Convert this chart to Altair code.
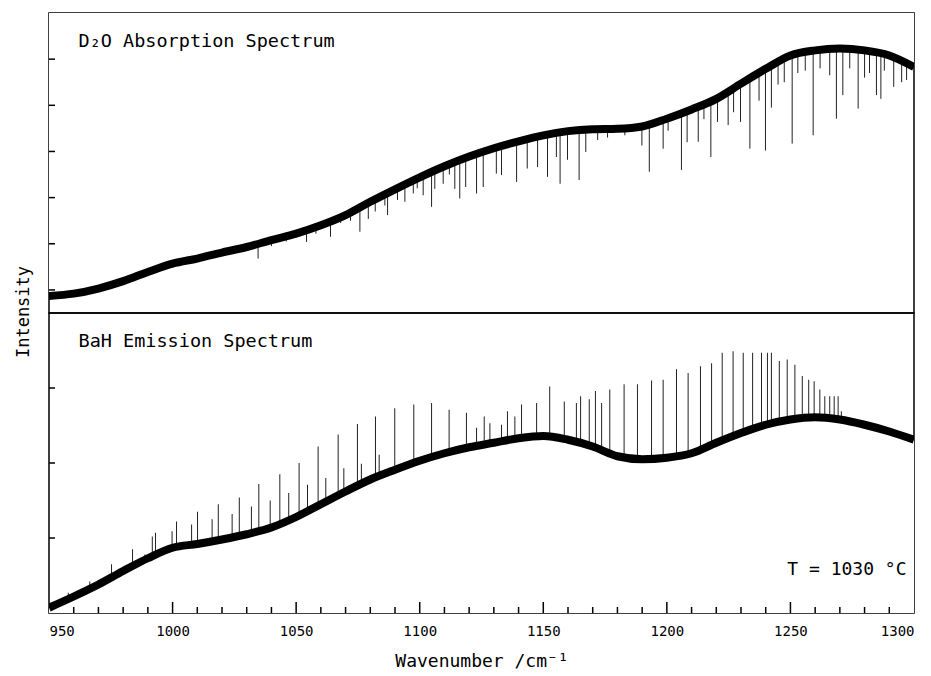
import altair as alt
import pandas as pd

# ---------------- data ----------------
# wavenumber grid (cm^-1) of the read-off smooth backgrounds
wn_grid = [950, 960, 970, 980, 990, 1000, 1010, 1020, 1030, 1040, 1050, 1060,
           1070, 1080, 1090, 1100, 1110, 1120, 1130, 1140, 1150, 1160, 1170,
           1180, 1190, 1200, 1210, 1220, 1230, 1240, 1250, 1260, 1270, 1280,
           1290, 1300]

# D2O absorption spectrum: background (arbitrary intensity units)
d2o_band = [0.37, 0.42, 0.53, 0.69, 0.89, 1.07, 1.18, 1.31, 1.43, 1.58, 1.72,
            1.90, 2.12, 2.41, 2.68, 2.94, 3.18, 3.39, 3.57, 3.72, 3.85, 3.94,
            3.98, 3.99, 4.04, 4.21, 4.41, 4.64, 4.97, 5.29, 5.58, 5.69, 5.73,
            5.69, 5.58, 5.33]

# D2O absorption lines: position and lowest value reached
d2o_line_wn = [1034.6, 1054.2, 1063.9, 1075.8, 1079.2, 1085.9, 1087.0, 1094.0,
               1097.4, 1101.4, 1104.8, 1106.1, 1109.5, 1114.2, 1116.2, 1118.6,
               1123.0, 1125.7, 1131.0, 1133.1, 1139.2, 1143.5, 1147.7, 1151.7,
               1155.3, 1156.8, 1159.8, 1164.5, 1167.2, 1189.9, 1192.9, 1198.5,
               1205.9, 1208.2, 1212.7, 1217.8, 1220.5, 1224.8, 1229.8, 1233.6,
               1237.3, 1239.9, 1242.3, 1250.7, 1259.2, 1265.9, 1268.6, 1271.2,
               1277.4, 1284.8, 1286.6, 1291.8,
               1040.0, 1046.0, 1058.0, 1068.0, 1072.0, 1082.0, 1091.0, 1099.0,
               1112.0, 1172.0, 1176.0, 1183.0, 1200.5, 1215.0, 1227.0, 1245.0,
               1247.5, 1253.0, 1256.0, 1262.0, 1274.0, 1280.0, 1282.0, 1288.0,
               1295.0, 1297.0]
d2o_line_low = [1.18, 1.54, 1.65, 1.76, 2.04, 2.33, 2.12, 2.41,
                2.59, 2.55, 2.30, 2.69, 2.80, 2.69, 2.48, 2.73,
                2.59, 2.73, 3.02, 2.99, 2.84, 3.13, 3.16, 2.95,
                3.38, 2.80, 3.32, 2.88, 3.49, 3.63, 3.06, 3.56,
                3.10, 3.70, 3.71, 3.38, 4.14, 4.07, 4.14, 3.56,
                4.60, 3.52, 4.45, 3.67, 3.85, 5.15, 4.21, 4.72,
                4.43, 4.72, 4.64, 4.90,
                1.45, 1.55, 1.72, 1.95, 2.00, 2.20, 2.45, 2.70,
                3.00, 3.75, 3.80, 3.85, 3.95, 4.20, 4.35, 4.95,
                5.00, 5.20, 5.25, 5.30, 5.30, 5.10, 5.20, 5.25,
                5.00, 5.05]

# BaH emission spectrum: background
bah_band = [0.07, 0.22, 0.38, 0.56, 0.73, 0.87, 0.92, 0.98, 1.05, 1.14, 1.28,
            1.45, 1.62, 1.78, 1.91, 2.03, 2.13, 2.21, 2.27, 2.33, 2.36, 2.31,
            2.22, 2.09, 2.05, 2.07, 2.13, 2.27, 2.40, 2.51, 2.58, 2.61, 2.58,
            2.51, 2.42, 2.31]

# BaH emission lines: position and peak value
bah_line_wn = [957.8, 966.5, 975.3, 983.8, 988.8, 991.8, 993.1, 999.8, 1001.6,
               1007.7, 1010.1, 1016.0, 1018.5, 1024.1, 1027.0, 1031.9, 1034.9,
               1039.5, 1043.4, 1047.0, 1051.2, 1054.6, 1058.9, 1062.0, 1067.0,
               1069.3, 1074.8, 1076.4, 1082.1, 1083.6, 1089.9, 1097.6, 1104.8,
               1111.9, 1118.9, 1123.0, 1126.1, 1128.4, 1133.1, 1135.5, 1138.5,
               1141.2, 1147.3, 1152.6, 1158.5, 1163.4, 1165.1, 1168.6, 1171.1,
               1173.6, 1176.9, 1182.7, 1188.1, 1193.8, 1198.5, 1203.9, 1208.6,
               1213.6, 1218.1, 1222.4, 1226.8, 1230.9, 1234.7, 1238.3, 1240.7,
               1242.3, 1245.5, 1248.7, 1251.8, 1254.8, 1257.4, 1259.6, 1261.9,
               1263.9, 1265.9, 1267.7, 1269.3, 1270.6]
bah_line_peak = [0.27, 0.42, 0.65, 0.85, 0.78, 1.02, 1.07, 1.09, 1.22,
                 1.18, 1.35, 1.25, 1.45, 1.32, 1.54, 1.42, 1.72,
                 1.50, 1.85, 1.60, 2.00, 1.71, 2.22, 1.80, 2.38,
                 1.93, 2.52, 1.99, 2.62, 2.11, 2.73, 2.78, 2.80,
                 2.71, 2.67, 2.47, 2.62, 2.53, 2.51, 2.69, 2.62,
                 2.78, 2.80, 3.02, 2.82, 2.80, 2.89, 2.85, 2.96,
                 2.80, 2.98, 3.05, 3.05, 3.10, 3.11, 3.25, 3.20,
                 3.29, 3.33, 3.47, 3.49, 3.47, 3.47, 3.47, 3.47,
                 3.47, 3.36, 3.38, 3.31, 3.16, 3.11, 3.09, 2.98,
                 2.89, 2.89, 2.89, 2.89, 2.69]

# axes
x_range = [950, 1300]
d2o_range = [0, 6.5]
bah_range = [0, 4]
x_labels = [950, 1000, 1050, 1100, 1150, 1200, 1250, 1300]
x_major = [1000, 1050, 1100, 1150, 1200, 1250]
x_minor = [960, 970, 980, 990, 1010, 1020, 1030, 1040, 1060, 1070, 1080, 1090,
           1110, 1120, 1130, 1140, 1160, 1170, 1180, 1190, 1210, 1220, 1230,
           1240, 1260, 1270, 1280, 1290]
d2o_yticks = [0.5, 1.5, 2.5, 3.5, 4.5, 5.5]
bah_yticks = [1, 2, 3]

# texts
d2o_title = "D\u2082O Absorption Spectrum"
bah_title = "BaH Emission Spectrum"
temp_text = "T = 1030 \u00b0C"
y_title = "Intensity"
x_title = "Wavenumber /cm\u207b\u00b9"

# ---------------- chart ----------------
W, H = 865, 300
FONT = "DejaVu Sans Mono"
xs = alt.Scale(domain=x_range, nice=False, zero=False)
ys_top = alt.Scale(domain=d2o_range, nice=False, zero=False)
ys_bot = alt.Scale(domain=bah_range, nice=False, zero=False)

band_df = pd.DataFrame({"wn": wn_grid, "d2o": d2o_band, "bah": bah_band,
                        "ceil": [d2o_range[1]] * len(wn_grid)})
d2o_lines = pd.DataFrame({"wn": d2o_line_wn, "low": d2o_line_low})
bah_lines = pd.DataFrame({"wn": bah_line_wn, "peak": bah_line_peak})

# --- top panel ---
xt = alt.X("wn:Q", scale=xs, axis=None)
top_spikes = alt.Chart(d2o_lines).mark_rule(color="#222222", strokeWidth=1).encode(
    x=xt, y=alt.Y("low:Q", scale=ys_top, axis=None), y2=alt.value(0))
top_white = alt.Chart(band_df).mark_area(color="white", interpolate="monotone").encode(
    x=xt, y=alt.Y("d2o:Q", scale=ys_top, axis=None), y2="ceil:Q")
top_band = alt.Chart(band_df).mark_line(color="black", strokeWidth=8, interpolate="monotone",
                                        clip=True).encode(
    x=xt, y=alt.Y("d2o:Q", scale=ys_top, axis=None))
top_yt = alt.Chart(pd.DataFrame({"v": d2o_yticks})).mark_rule(color="black", strokeWidth=1.5).encode(
    y=alt.Y("v:Q", scale=ys_top, axis=None), x=alt.value(0), x2=alt.value(6))
top_txt = alt.Chart(pd.DataFrame({"t": [d2o_title]})).mark_text(
    align="left", baseline="alphabetic", font=FONT, fontSize=18.5, color="black").encode(
    x=alt.value(29.5), y=alt.value(33.5), text="t:N")
ylab = alt.Chart(pd.DataFrame({"t": [y_title]})).mark_text(
    align="center", baseline="middle", font=FONT, fontSize=17, angle=270, color="black").encode(
    x=alt.value(-25), y=alt.value(299), text="t:N")
top = alt.layer(top_spikes, top_white, top_band, top_yt, top_txt, ylab).properties(width=W, height=H)

# --- bottom panel ---
xax = alt.Axis(values=x_labels, format="d", ticks=False, domain=False, grid=False,
               labelFont=FONT, labelFontSize=14, labelColor="black", labelPadding=11,
               labelFlush=True, labelFlushOffset=0,
               title=x_title, titleFont=FONT, titleFontSize=18, titleFontWeight="normal",
               titleColor="black", titlePadding=14)
xb = alt.X("wn:Q", scale=xs, axis=xax)
bot_spikes = alt.Chart(bah_lines).mark_rule(color="#222222", strokeWidth=1).encode(
    x=xb, y=alt.Y("peak:Q", scale=ys_bot, axis=None), y2=alt.value(H))
bot_white = alt.Chart(band_df).mark_area(color="white", interpolate="monotone").encode(
    x=xb, y=alt.Y("bah:Q", scale=ys_bot, axis=None))
bot_band = alt.Chart(band_df).mark_line(color="black", strokeWidth=8, interpolate="monotone",
                                        clip=True).encode(
    x=xb, y=alt.Y("bah:Q", scale=ys_bot, axis=None))
maj = alt.Chart(pd.DataFrame({"wn": x_major})).mark_rule(color="black", strokeWidth=1.5).encode(
    x=xb, y=alt.value(H), y2=alt.value(H - 11))
mnr = alt.Chart(pd.DataFrame({"wn": x_minor})).mark_rule(color="black", strokeWidth=1.5).encode(
    x=xb, y=alt.value(H), y2=alt.value(H - 6))
bot_yt = alt.Chart(pd.DataFrame({"v": bah_yticks})).mark_rule(color="black", strokeWidth=1.5).encode(
    y=alt.Y("v:Q", scale=ys_bot, axis=None), x=alt.value(0), x2=alt.value(6))
bot_txt = alt.Chart(pd.DataFrame({"t": [bah_title]})).mark_text(
    align="left", baseline="alphabetic", font=FONT, fontSize=18.5, color="black").encode(
    x=alt.value(29.5), y=alt.value(33.5), text="t:N")
temp = alt.Chart(pd.DataFrame({"t": [temp_text]})).mark_text(
    align="right", baseline="alphabetic", font=FONT, fontSize=18, color="black").encode(
    x=alt.value(857.5), y=alt.value(261.5), text="t:N")
bottom = alt.layer(bot_spikes, bot_white, bot_band, maj, mnr, bot_yt, bot_txt, temp).properties(width=W, height=H)

chart = alt.vconcat(top, bottom, spacing=0, bounds="flush").properties(
    padding={"left": 6, "top": 3, "right": 0, "bottom": 0},
    background="white",
).configure_view(stroke="black", strokeWidth=1.5)

chart.save("out.html", embed_options={"renderer": "svg", "actions": False})
